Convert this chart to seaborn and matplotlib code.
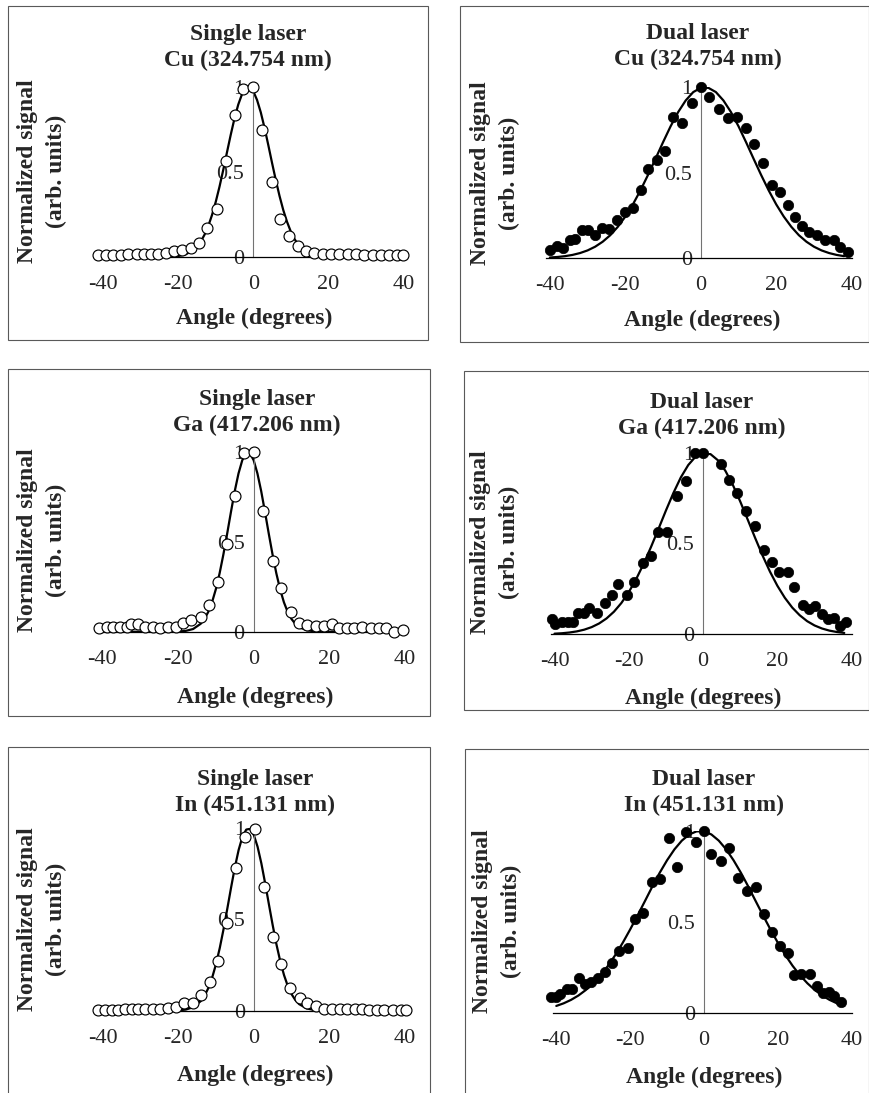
import matplotlib
matplotlib.use("Agg")
import matplotlib.pyplot as plt
from matplotlib.patches import Rectangle
from matplotlib.ticker import MultipleLocator
import seaborn as sns

sns.set_style("white")
plt.rcParams['font.family'] = ['Liberation Serif', 'DejaVu Serif']

# ---- data ----
# single laser, Cu
sc_angle = [-41.3, -39.3, -37.3, -35.4, -33.3, -31.1, -29.2, -27.4, -25.3, -23.3, -21.2, -18.9,
            -16.6, -14.4, -12.3, -9.8, -7.4, -4.9, -2.7, 0.0, 2.4, 4.9, 7.1, 9.6, 11.8, 14.0,
            16.3, 18.5, 20.7, 22.9, 25.2, 27.4, 29.6, 31.8, 34.0, 36.3, 38.2, 40.0]
sc_signal = [0.014, 0.014, 0.014, 0.014, 0.016, 0.018, 0.02, 0.02, 0.02, 0.024, 0.035, 0.039,
             0.053, 0.084, 0.17, 0.284, 0.565, 0.833, 0.99, 1.0, 0.749, 0.441, 0.225, 0.125, 0.067, 0.035,
             0.024, 0.02, 0.016, 0.02, 0.016, 0.016, 0.014, 0.014, 0.014, 0.014, 0.014, 0.014]

# single laser, Ga
sg_angle = [-41.0, -38.8, -37.1, -35.4, -33.6, -32.3, -30.5, -28.8, -26.6, -24.8, -22.6, -20.4, -18.7,
            -16.5, -13.9, -11.7, -9.5, -7.0, -4.8, -2.5, 0.0, 2.5, 5.0, 7.2, 9.8, 12.0, 14.2, 16.4,
            18.6, 20.8, 22.5, 24.7, 26.5, 28.7, 30.9, 33.1, 35.1, 37.1, 39.6]
sg_signal = [0.019, 0.024, 0.024, 0.024, 0.024, 0.041, 0.041, 0.024, 0.024, 0.019, 0.024, 0.024, 0.046,
             0.065, 0.08, 0.149, 0.275, 0.487, 0.758, 0.994, 1.0, 0.675, 0.394, 0.242, 0.111, 0.046, 0.037, 0.032,
             0.032, 0.041, 0.022, 0.022, 0.022, 0.028, 0.022, 0.022, 0.019, 0.0, 0.009]

# single laser, In
si_angle = [-41.2, -39.3, -37.6, -35.8, -34.1, -32.3, -30.6, -28.7, -26.7, -24.9, -22.7, -20.5, -18.4,
            -16.2, -14.0, -11.6, -9.4, -7.0, -4.6, -2.4, 0.3, 2.6, 5.0, 7.3, 9.6, 12.1, 14.2, 16.4,
            18.6, 20.8, 22.7, 24.7, 26.7, 28.7, 30.6, 32.6, 34.5, 36.7, 38.9, 40.2]
si_signal = [0.004, 0.004, 0.004, 0.004, 0.007, 0.007, 0.007, 0.007, 0.007, 0.007, 0.013, 0.022, 0.040,
             0.040, 0.086, 0.159, 0.274, 0.483, 0.781, 0.954, 0.995, 0.68, 0.402, 0.254, 0.122, 0.068, 0.040, 0.026,
             0.009, 0.009, 0.009, 0.009, 0.009, 0.007, 0.004, 0.004, 0.004, 0.004, 0.004, 0.004]

# fitted curves of the single laser panels
single_fit_angle = [-40, -30, -24, -20, -18, -16, -14, -13, -12, -11, -10, -9, -8, -7, -6, -5, -4, -3, -2, -1,
                    0, 1, 2, 3, 4, 5, 6, 7, 8, 9, 10, 11, 12, 14, 16, 18, 20, 30, 40]
sc_fit = [0, 0, 0.0005, 0.0055, 0.0158, 0.0403, 0.091, 0.131, 0.182, 0.247, 0.325, 0.414, 0.513, 0.617,
          0.720, 0.816, 0.897, 0.958, 0.993, 0.999, 0.975, 0.924, 0.851, 0.760, 0.659, 0.554, 0.453, 0.359,
          0.276, 0.207, 0.150, 0.1055, 0.072, 0.031, 0.0117, 0.004, 0.001, 0, 0]
sg_fit = [0, 0, 0, 0.001, 0.0043, 0.0149, 0.044, 0.071, 0.110, 0.164, 0.236, 0.325, 0.430, 0.546,
          0.667, 0.783, 0.882, 0.956, 0.995, 0.995, 0.956, 0.882, 0.783, 0.667, 0.546, 0.430, 0.325, 0.236,
          0.164, 0.110, 0.071, 0.044, 0.026, 0.0082, 0.0022, 0.0005, 0, 0, 0]
si_fit = [0, 0, 0.0001, 0.0017, 0.0061, 0.0194, 0.053, 0.083, 0.125, 0.182, 0.255, 0.344, 0.447, 0.560,
          0.676, 0.787, 0.882, 0.954, 0.993, 0.997, 0.964, 0.899, 0.808, 0.699, 0.583, 0.469, 0.363, 0.271,
          0.195, 0.135, 0.0904, 0.058, 0.036, 0.0125, 0.0037, 0.001, 0.0002, 0, 0]

# dual laser, Cu
dc_angle = [-40.0, -38.2, -36.5, -34.7, -33.4, -31.6, -29.8, -28.1, -26.3, -24.3, -22.3, -20.1, -17.9,
            -15.9, -13.9, -11.7, -9.5, -7.3, -4.9, -2.4, 0.0, 2.2, 4.9, 7.2, 9.6, 11.9, 14.2, 16.6,
            18.8, 21.1, 23.1, 24.9, 26.8, 28.8, 30.8, 32.8, 35.2, 37.0, 39.0]
dc_signal = [0.049, 0.072, 0.058, 0.107, 0.111, 0.166, 0.166, 0.136, 0.179, 0.170, 0.224, 0.273, 0.292,
             0.400, 0.520, 0.575, 0.628, 0.828, 0.789, 0.906, 1.0, 0.945, 0.871, 0.819, 0.828, 0.764, 0.667, 0.559,
             0.429, 0.390, 0.312, 0.244, 0.189, 0.156, 0.136, 0.107, 0.107, 0.068, 0.039]

# dual laser, Ga
dg_angle = [-40.8, -39.9, -38.1, -36.3, -35.1, -33.7, -32.1, -30.6, -28.6, -26.5, -24.6, -22.8, -20.5,
            -18.5, -16.3, -14.1, -12.2, -9.6, -7.1, -4.7, -2.2, 0.0, 4.7, 7.0, 9.2, 11.6, 14.0, 16.3,
            18.5, 20.5, 22.8, 24.6, 26.8, 28.6, 30.2, 32.1, 33.7, 35.3, 36.9, 38.4]
dg_signal = [0.084, 0.055, 0.070, 0.066, 0.070, 0.116, 0.116, 0.147, 0.116, 0.171, 0.217, 0.277, 0.217,
             0.290, 0.391, 0.431, 0.565, 0.565, 0.761, 0.846, 0.996, 0.996, 0.938, 0.850, 0.776, 0.681, 0.598, 0.464,
             0.400, 0.345, 0.341, 0.262, 0.161, 0.139, 0.158, 0.110, 0.084, 0.092, 0.048, 0.070]

# dual laser, In
di_angle = [-41.3, -40.2, -39.0, -37.2, -35.7, -33.9, -32.3, -30.6, -28.6, -26.7, -24.8, -23.0, -20.7,
            -18.7, -16.5, -14.2, -12.0, -9.5, -7.2, -4.8, -2.3, 0.0, 2.0, 4.5, 6.9, 9.2, 11.7, 14.1,
            16.2, 18.4, 20.7, 22.7, 24.5, 26.3, 28.6, 30.6, 32.2, 33.8, 35.3, 37.1]
di_signal = [0.088, 0.088, 0.101, 0.130, 0.130, 0.193, 0.156, 0.171, 0.189, 0.222, 0.272, 0.341, 0.354,
             0.514, 0.550, 0.721, 0.736, 0.960, 0.800, 0.993, 0.938, 1.0, 0.872, 0.835, 0.908, 0.743, 0.670, 0.690,
             0.541, 0.446, 0.369, 0.327, 0.207, 0.211, 0.215, 0.149, 0.107, 0.112, 0.094, 0.061]

# fitted curves of the dual laser panels
dual_fit_angle = [-40, -38, -36, -34, -32, -30, -28, -26, -24, -22, -20, -18, -16, -14, -12, -10, -8, -6, -4, -2,
                  0, 2, 4, 6, 8, 10, 12, 14, 16, 18, 20, 22, 24, 26, 28, 30, 32, 34, 36, 38]
dc_fit = [0.0046, 0.0077, 0.0125, 0.0198, 0.0307, 0.0462, 0.0678, 0.097, 0.135, 0.184, 0.244, 0.315, 0.397,
          0.487, 0.582, 0.679, 0.772, 0.855, 0.923, 0.972, 0.997, 0.997, 0.972, 0.923, 0.855, 0.772, 0.679,
          0.582, 0.487, 0.397, 0.315, 0.244, 0.184, 0.135, 0.097, 0.0678, 0.0462, 0.0307, 0.0198, 0.0125]
dg_fit = [0.0034, 0.0058, 0.0098, 0.016, 0.0255, 0.0396, 0.0596, 0.0873, 0.1244, 0.1724, 0.2324, 0.3048,
          0.3886, 0.482, 0.581, 0.682, 0.778, 0.864, 0.932, 0.979, 0.999, 0.992, 0.958, 0.900, 0.823, 0.731,
          0.632, 0.531, 0.434, 0.345, 0.267, 0.201, 0.147, 0.105, 0.0724, 0.0487, 0.0319, 0.0203, 0.0126, 0.0076]
di_fit = [0.0372, 0.0517, 0.0706, 0.0947, 0.125, 0.162, 0.206, 0.258, 0.318, 0.385, 0.458, 0.535, 0.614,
          0.694, 0.770, 0.839, 0.899, 0.947, 0.981, 0.998, 0.998, 0.981, 0.947, 0.899, 0.839, 0.770, 0.694,
          0.614, 0.535, 0.458, 0.385, 0.318, 0.258, 0.206, 0.162, 0.125, 0.0947, 0.0706, 0.0517, 0.0372]

titles = ['Single laser\nCu (324.754 nm)', 'Dual laser\nCu (324.754 nm)',
          'Single laser\nGa (417.206 nm)', 'Dual laser\nGa (417.206 nm)',
          'Single laser\nIn (451.131 nm)', 'Dual laser\nIn (451.131 nm)']
x_ticks = [-40, -20, 0, 20, 40]
x_tick_labels = ['-40', '-20', '0', '20', '40']
y_ticks = [0, 0.5, 1]
y_tick_labels = ['0', '0.5', '1']

panels = [
    (sc_angle, sc_signal, single_fit_angle, sc_fit, False),
    (dc_angle, dc_signal, dual_fit_angle, dc_fit, True),
    (sg_angle, sg_signal, single_fit_angle, sg_fit, False),
    (dg_angle, dg_signal, dual_fit_angle, dg_fit, True),
    (si_angle, si_signal, single_fit_angle, si_fit, False),
    (di_angle, di_signal, dual_fit_angle, di_fit, True),
]

# ---- layout in pixels (870 x 1093) ----
W, H = 870, 1093
# axes: left, right, y of 0, y of 1
axes_px = [(99.5, 403.3, 257, 87), (546.1, 851.7, 258.3, 87.3),
           (98.5, 405, 631.7, 452.3), (550.8, 851.7, 634.3, 452.7),
           (98.8, 405, 1010.7, 828.3), (552.6, 851.7, 1012.7, 831)]
# frame boxes: x0, y0, x1, y1
box_px = [(8, 6, 428, 340), (460, 6, 869, 342),
          (8, 369, 430, 716), (464, 371, 869, 710),
          (8, 747, 430, 1100), (465, 749, 869, 1100)]
title_px = [(248, 48), (698, 47), (257, 413), (702, 416), (255, 793), (704, 793)]
xlabel_px = [(254, 318), (702, 320), (255, 697), (703, 698), (255, 1075), (704, 1077)]
ylabel_px = [(42, 171), (495, 173), (42, 540), (495, 542), (42, 919), (497, 921)]

fig = plt.figure(figsize=(8.7, 10.93), dpi=100)

for i, (ang, sig, fang, fit, filled) in enumerate(panels):
    l, r, y0, y1 = axes_px[i]
    ax = fig.add_axes([l / W, 1 - y0 / H, (r - l) / W, (y0 - y1) / H])
    ax.patch.set_alpha(0)

    sns.lineplot(x=fang, y=fit, ax=ax, color='black', linewidth=1.6, estimator=None, zorder=2)
    if filled:
        sns.scatterplot(x=ang, y=sig, ax=ax, color='black', edgecolor='black', s=56,
                        linewidth=0.5, clip_on=False, zorder=3)
    else:
        sns.scatterplot(x=ang, y=sig, ax=ax, color='white', edgecolor='black', s=62,
                        linewidth=0.85, clip_on=False, zorder=3)

    ax.set_xlim(-41, 40)
    ax.set_ylim(0, 1)
    for s in ['top', 'right']:
        ax.spines[s].set_visible(False)
    ax.spines['left'].set_position(('data', 0))
    ax.spines['left'].set_color('0.45')
    ax.spines['left'].set_linewidth(0.8)
    ax.spines['bottom'].set_color('black')
    ax.spines['bottom'].set_linewidth(0.9)

    ax.set_xticks(x_ticks)
    ax.set_xticklabels(x_tick_labels, fontsize=16)
    ax.xaxis.set_minor_locator(MultipleLocator(10 / 3))
    ax.set_yticks(y_ticks)
    ax.set_yticklabels(y_tick_labels, fontsize=16)
    ax.yaxis.set_minor_locator(MultipleLocator(0.1))
    ax.tick_params(axis='x', which='both', direction='in', length=3, width=0.7, color='black', pad=13)
    ax.tick_params(axis='y', which='both', direction='out', length=2.5, width=0.7, color='0.45', pad=4)

    ax.set_xlabel('Angle (degrees)', fontsize=17, fontweight='bold', va='center')
    ax.xaxis.set_label_coords(xlabel_px[i][0] / W, 1 - xlabel_px[i][1] / H, transform=fig.transFigure)
    ax.set_ylabel('Normalized signal\n(arb. units)', fontsize=17, fontweight='bold',
                  va='center', linespacing=1.45)
    ax.yaxis.set_label_coords(ylabel_px[i][0] / W, 1 - ylabel_px[i][1] / H, transform=fig.transFigure)

    fig.text(title_px[i][0] / W, 1 - title_px[i][1] / H, titles[i], ha='center', va='center',
             fontsize=17, fontweight='bold', linespacing=1.3)

    bx0, by0, bx1, by1 = box_px[i]
    fig.add_artist(Rectangle((bx0 / W, 1 - by1 / H), (bx1 - bx0) / W, (by1 - by0) / H,
                             transform=fig.transFigure, fill=False, edgecolor='0.35', linewidth=0.8))

fig.savefig('out.png', dpi=100)
